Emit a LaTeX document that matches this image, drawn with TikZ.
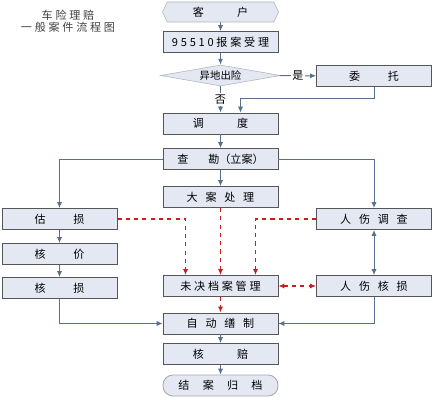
\documentclass[tikz,border=0pt]{standalone}
\usepackage{fontspec}
\setmainfont{Noto Sans CJK SC}
\newfontfamily\widefont[LetterSpace=25]{Noto Sans CJK SC}
\usepackage{tikz}
\usetikzlibrary{shapes.symbols,shapes.geometric,arrows.meta}
\tikzset{>={Latex[width=1.3mm,length=1.5mm]}}
\definecolor{boxfill}{RGB}{228,232,243}
\definecolor{boxline}{RGB}{85,85,90}
\definecolor{flowline}{RGB}{88,112,140}
\definecolor{redline}{RGB}{200,30,30}
\tikzset{
  stepbox/.style={shape=rectangle,draw=boxline,line width=0.6pt,fill=boxfill,minimum height=0.21in,minimum width=1.15in,inner sep=1pt,font=\fontsize{8}{10}\selectfont},
  flow/.style={draw=flowline,line width=0.7pt,->},
  dashflow/.style={draw=redline,line width=1pt,dashed,->}
}

\begin{document}
\begin{tikzpicture}
\useasboundingbox (0,0) rectangle (4.33in,-4in);

\path (0.68in,-0.21in) node (title) [align=center,text=black!75,font=\fontsize{8}{8.6}\widefont]{车险理赔\\一般案件流程图};

\path (2.205in,-0.12in) node (kehu) [shape=signal,signal to=west and east,signal pointer angle=130,draw=black!30,fill=boxfill,minimum height=0.2in,minimum width=1.16in,inner sep=1pt,font=\fontsize{8}{10}\selectfont]{客\hspace{3em}户};
\path (2.205in,-0.42in) node (baoan) [stepbox,font=\fontsize{8}{10}\widefont]{95510报案受理};
\path (2.205in,-0.755in) node (yidi) [shape=diamond,aspect=6,draw=black!30,fill=boxfill,minimum height=0.21in,minimum width=1.2in,inner sep=0pt,font=\fontsize{7.5}{8}\selectfont]{异地出险};
\path (3.74in,-0.76in) node (weituo) [stepbox]{委\hspace{2.5em}托};
\path (2.205in,-1.235in) node (diaodu) [stepbox]{调\hspace{3em}度};
\path (2.205in,-1.59in) node (chakan) [stepbox]{查\hspace{1.8em}勘（立案）};
\path (2.205in,-1.97in) node (daan) [stepbox]{大\hspace{0.7em}案\hspace{0.7em}处\hspace{0.7em}理};
\path (0.595in,-2.19in) node (gusun) [stepbox]{估\hspace{2.5em}损};
\path (3.74in,-2.19in) node (renshang) [stepbox]{人\hspace{0.7em}伤\hspace{0.7em}调\hspace{0.7em}查};
\path (0.595in,-2.54in) node (hejia) [stepbox]{核\hspace{2.5em}价};
\path (0.595in,-2.88in) node (hesun) [stepbox]{核\hspace{2.5em}损};
\path (2.205in,-2.86in) node (weijue) [stepbox,font=\fontsize{8}{10}\widefont]{未决档案管理};
\path (3.74in,-2.86in) node (renhesun) [stepbox]{人\hspace{0.7em}伤\hspace{0.7em}核\hspace{0.7em}损};
\path (2.205in,-3.235in) node (zidong) [stepbox]{自\hspace{0.7em}动\hspace{0.7em}缮\hspace{0.7em}制};
\path (2.205in,-3.54in) node (hepei) [stepbox]{核\hspace{3em}赔};
\path (2.205in,-3.855in) node (jiean) [stepbox,draw=black!35,rounded corners=0.1in]{结\hspace{1.2em}案\hspace{1.2em}归\hspace{1.2em}档};

% main line
\draw[flow] (kehu) -- (baoan);
\draw[flow] (baoan) -- (yidi);
\draw[flow] (yidi) -- node[fill=white,inner sep=1pt,font=\fontsize{8}{10}\selectfont]{是} (weituo);
\draw[flow] (yidi) -- node[fill=white,inner sep=1pt,font=\fontsize{8}{10}\selectfont]{否} (diaodu);
\draw[flow] (weituo.south) -- ++(0,-0.12in) -| ([xshift=0.2in]diaodu.north);
\draw[flow] (diaodu) -- (chakan);
\draw[flow] (chakan) -- (daan);
\draw[flow] (chakan.west) -| (gusun.north);
\draw[flow] (chakan.east) -| (renshang.north);
\draw[flow] (gusun) -- (hejia);
\draw[flow] (hejia) -- (hesun);
\draw[flow,<->] (renshang) -- (renhesun);
\draw[flow] (hesun.south) |- (zidong.west);
\draw[flow] (renhesun.south) |- (zidong.east);
\draw[flow] (zidong) -- (hepei);
\draw[flow] (hepei) -- (jiean);

% pending files
\draw[dashflow] (gusun.east) -| ([xshift=-0.35in]weijue.north);
\draw[dashflow] (daan) -- (weijue);
\draw[dashflow] (renshang.west) -| ([xshift=0.35in]weijue.north);
\draw[dashflow,<->] (weijue) -- (renhesun);
\draw[dashflow] (weijue) -- (zidong);

\end{tikzpicture}
\end{document}
